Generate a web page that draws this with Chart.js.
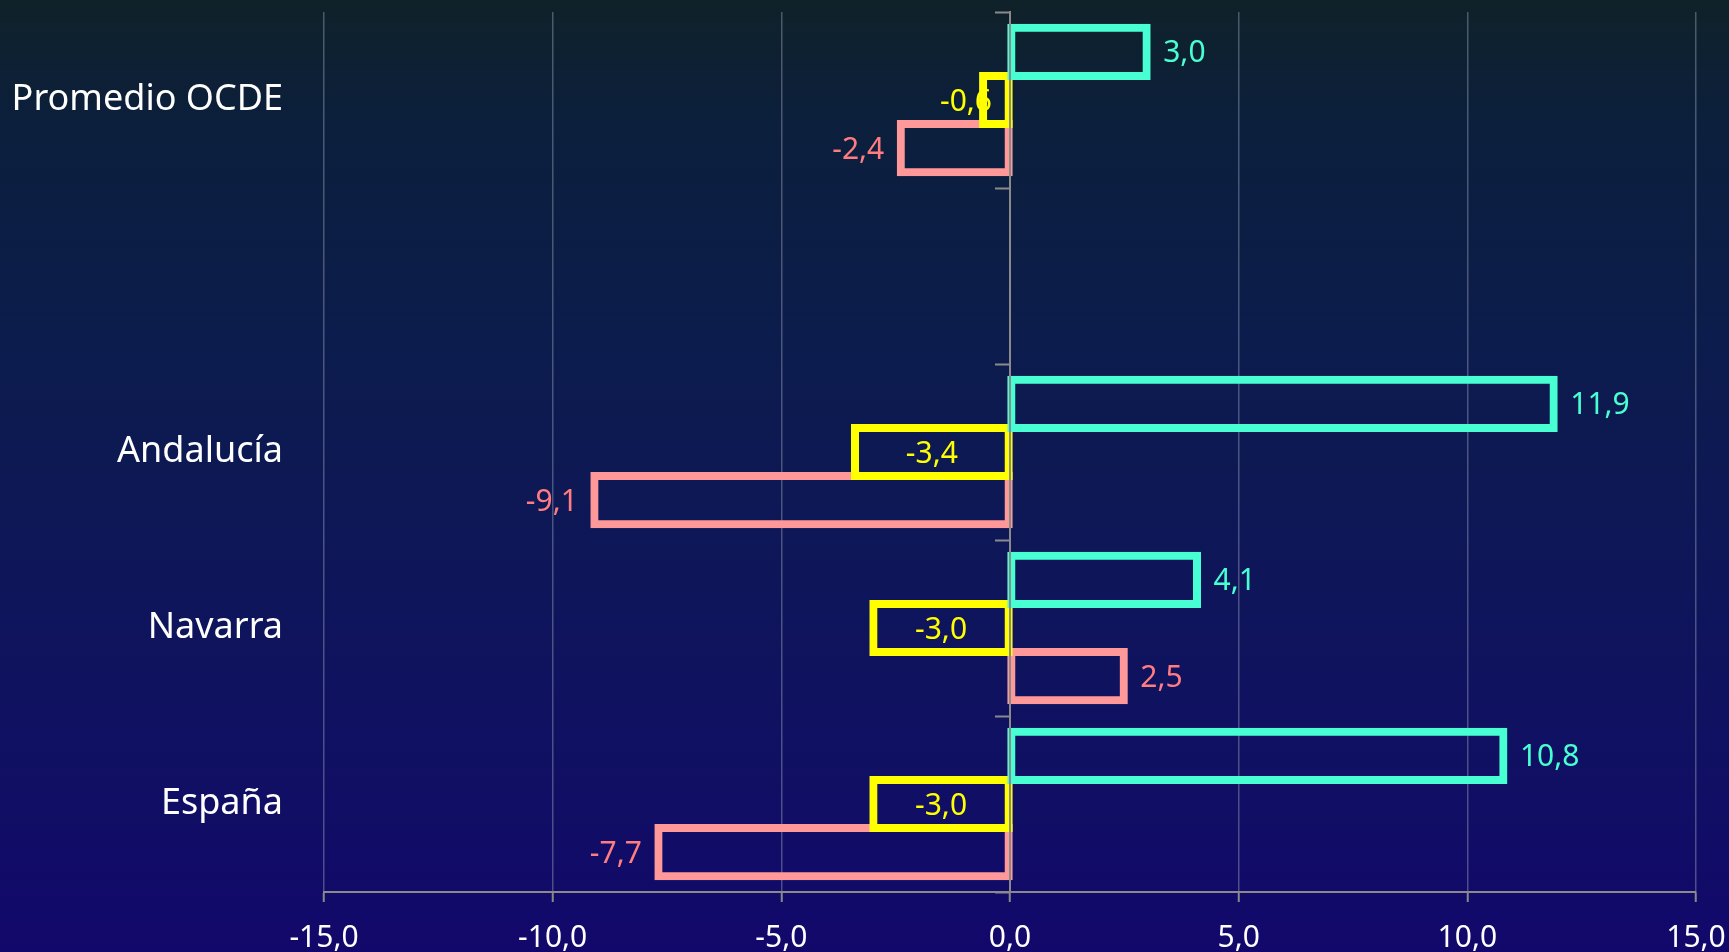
<!DOCTYPE html>
<html>
<head>
<meta charset="utf-8">
<script src="https://cdn.jsdelivr.net/npm/chart.js@4"></script>
<style>
  html, body { margin: 0; padding: 0; overflow: hidden; background: #0d1a4a; }
  canvas { display: block; }
</style>
</head>
<body>
<canvas id="grafico" width="1729" height="952"></canvas>
<script>
// Categorías (la segunda queda vacía como separador) y series
const categorias = ['Promedio OCDE', '', 'Andalucía', 'Navarra', 'España'];
const serieTurquesa = [3.0, null, 11.9, 4.1, 10.8];
const serieAmarilla = [-0.6, null, -3.4, -3.0, -3.0];
const serieRosa = [-2.4, null, -9.1, 2.5, -7.7];
const ticksX = [-15, -10, -5, 0, 5, 10, 15];

const coloresBarra = ['#48FFD3', '#FFFF00', '#FF9999'];
const coloresEtiqueta = ['#48FFD3', '#FFFF00', '#FF7C80'];
const posicionEtiqueta = ['fuera', 'centro', 'fuera'];

const fmt = v => v.toFixed(1).replace('.', ',');
const FUENTE = "'Noto Sans', 'DejaVu Sans', sans-serif";

Chart.defaults.font.family = FUENTE;

// Fondo degradado de toda la imagen
const fondo = {
  id: 'fondo',
  beforeDraw(chart) {
    const { ctx, width, height } = chart;
    const g = ctx.createLinearGradient(0, 0, 0, height);
    g.addColorStop(0, '#0f2229');
    g.addColorStop(0.12, '#0c1f3b');
    g.addColorStop(0.35, '#0c1c4c');
    g.addColorStop(0.6, '#0e1659');
    g.addColorStop(0.8, '#101063');
    g.addColorStop(1, '#12086b');
    ctx.save();
    ctx.fillStyle = g;
    ctx.fillRect(0, 0, width, height);
    ctx.restore();
  }
};

// Etiquetas con el valor de cada barra
const etiquetas = {
  id: 'etiquetas',
  beforeDatasetsDraw(chart) {
    const ctx = chart.ctx;
    const cero = chart.scales.x.getPixelForValue(0);
    ctx.save();
    ctx.font = '30px ' + FUENTE;
    ctx.textBaseline = 'middle';
    chart.data.datasets.forEach((ds, i) => {
      const meta = chart.getDatasetMeta(i);
      meta.data.forEach((bar, j) => {
        const v = ds.data[j];
        if (v === null || v === undefined) return;
        const txt = fmt(v);
        const w = ctx.measureText(txt).width;
        const y = bar.y + 2;
        ctx.fillStyle = coloresEtiqueta[i];
        if (posicionEtiqueta[i] === 'centro') {
          let cx = (bar.x + bar.base) / 2;
          if (v < 0) cx = Math.min(cx, cero - 18 - w / 2);
          else cx = Math.max(cx, cero + 18 + w / 2);
          ctx.textAlign = 'center';
          ctx.fillText(txt, cx, y);
        } else if (v >= 0) {
          ctx.textAlign = 'left';
          ctx.fillText(txt, bar.x + 16, y);
        } else {
          ctx.textAlign = 'right';
          ctx.fillText(txt, bar.x - 16, y);
        }
      });
    });
    ctx.restore();
  }
};

const series = [serieTurquesa, serieAmarilla, serieRosa];

new Chart(document.getElementById('grafico'), {
  type: 'bar',
  data: {
    labels: categorias,
    datasets: series.map((datos, i) => ({
      label: 'Serie ' + (i + 1),
      data: datos,
      borderColor: coloresBarra[i],
      backgroundColor: 'rgba(0,0,0,0)',
      borderWidth: 1,
      inflateAmount: 3.5,
      borderSkipped: false,
      categoryPercentage: 0.82,
      barPercentage: 1.02
    }))
  },
  options: {
    indexAxis: 'y',
    responsive: false,
    animation: false,
    devicePixelRatio: 1,
    layout: { padding: { top: 12, right: 33, bottom: 0, left: 0 } },
    plugins: {
      legend: { display: false },
      tooltip: { enabled: false }
    },
    scales: {
      x: {
        type: 'linear',
        min: -15,
        max: 15,
        afterBuildTicks: s => { s.ticks = ticksX.map(v => ({ value: v })); },
        afterFit: s => {
          s.height = 60;
          s.paddingLeft = 0;
          s.paddingRight = 0;
        },
        ticks: {
          color: '#ffffff',
          font: { size: 30 },
          padding: 18,
          maxRotation: 0,
          callback: v => fmt(v)
        },
        grid: {
          color: 'rgba(150,160,185,0.45)',
          lineWidth: 1.5,
          tickColor: '#8a8a8a',
          tickLength: 10,
          tickWidth: 2
        },
        border: { display: true, color: '#8a8a8a', width: 2 }
      },
      y: {
        type: 'category',
        position: 'left',
        offset: true,
        afterFit: s => {
          s.width = 324;
          s.paddingTop = 0;
          s.paddingBottom = 0;
        },
        grid: { display: false, drawTicks: false },
        border: { display: false },
        ticks: { color: '#ffffff', font: { size: 36 }, padding: 41 }
      },
      y2: {
        type: 'category',
        position: { x: 0 },
        offset: true,
        afterFit: s => {
          s.paddingTop = 0;
          s.paddingBottom = 0;
        },
        grid: {
          offset: true,
          drawOnChartArea: false,
          drawTicks: true,
          tickLength: 14,
          tickColor: '#8a8a8a',
          tickWidth: 2
        },
        border: { display: true, color: '#8a8a8a', width: 2, z: 1 },
        ticks: { display: false }
      }
    }
  },
  plugins: [fondo, etiquetas]
});
</script>
</body>
</html>
